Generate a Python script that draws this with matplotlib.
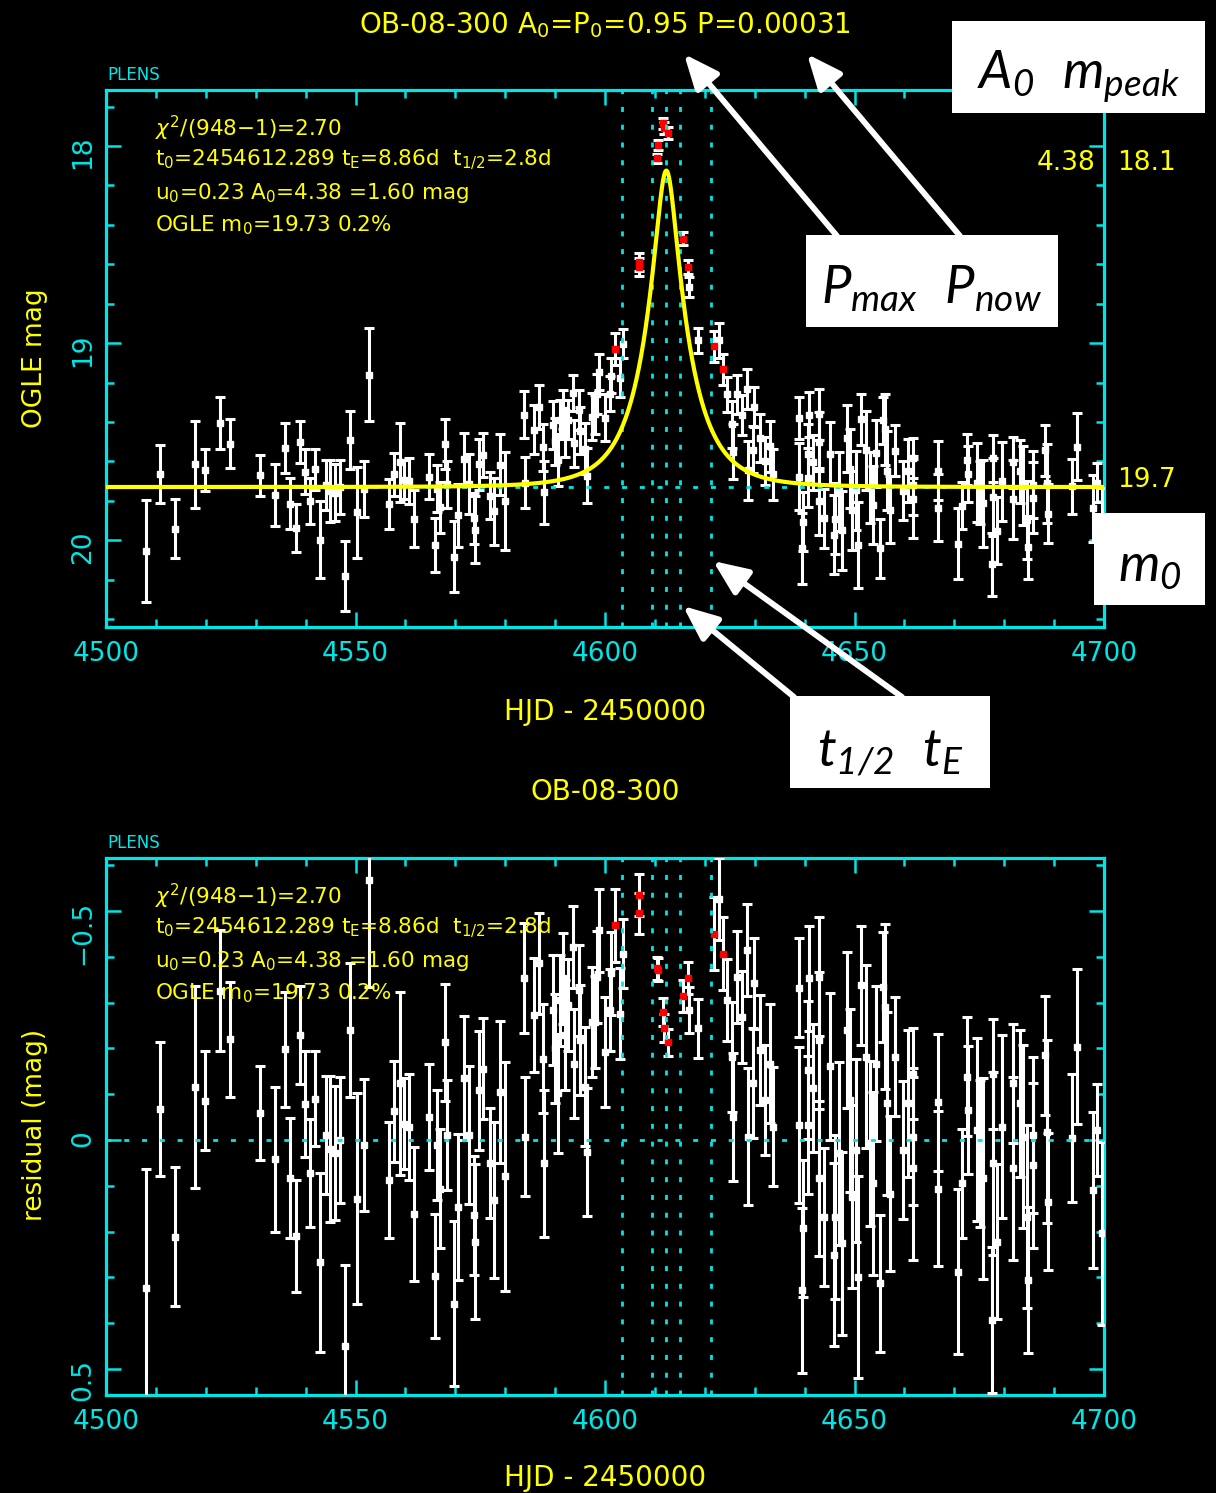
import numpy as np
import matplotlib
matplotlib.use('Agg')
import matplotlib.pyplot as plt
from matplotlib.patches import Rectangle, FancyArrowPatch
from matplotlib.ticker import MultipleLocator, FuncFormatter

plt.rcParams['font.family'] = ['DejaVu Sans']
plt.rcParams['mathtext.fontset'] = 'custom'
plt.rcParams['mathtext.it'] = 'Lato:italic'
plt.rcParams['mathtext.rm'] = 'Lato:italic'
plt.rcParams['mathtext.bf'] = 'Lato:bold:italic'

CYAN = '#00E5E5'
YEL = '#FFFF00'

# ---------------- data (OGLE photometry, residuals from the model) ----------------
hjd = [4507.95, 4510.8, 4513.9, 4517.9, 4519.8, 4522.9, 4524.9, 4530.8, 4533.9, 4535.9,
       4536.9, 4538.0, 4538.9, 4539.8, 4540.8, 4541.9, 4542.8, 4544.0, 4544.9, 4545.9,
       4546.8, 4547.9, 4548.9, 4550.4, 4551.7, 4552.8, 4556.8, 4557.8, 4558.9, 4559.7,
       4560.7, 4561.8, 4564.7, 4565.9, 4566.3, 4566.9, 4567.9, 4568.4, 4569.8, 4570.6,
       4571.7, 4572.7, 4573.8, 4573.9, 4574.8, 4575.6, 4576.9, 4577.8, 4578.9, 4579.9,
       4583.8, 4584.0, 4585.8, 4586.8, 4587.6, 4587.8, 4589.6, 4590.0, 4590.6, 4591.0,
       4591.6, 4592.0, 4592.6, 4593.6, 4593.7, 4594.7, 4595.0, 4596.0, 4596.3, 4597.3,
       4598.0, 4598.3, 4598.7, 4600.0, 4601.0, 4601.3, 4603.0, 4603.7,
       4616.9, 4618.7, 4622.9, 4624.4, 4625.4, 4625.7, 4626.4, 4627.4, 4628.4, 4628.7,
       4629.7, 4629.9, 4631.1, 4632.1, 4633.1, 4633.7,
       4638.9, 4638.9, 4639.5, 4639.7, 4640.7, 4640.7, 4640.9, 4641.7, 4642.9, 4642.9,
       4642.9, 4643.8, 4645.0, 4645.8, 4646.0, 4646.8, 4647.4, 4648.4, 4649.1, 4649.4,
       4650.4, 4650.8, 4651.4, 4652.4, 4653.1, 4653.8, 4654.4, 4655.1, 4655.8, 4656.1,
       4656.5, 4657.1, 4658.1, 4659.8, 4660.8, 4661.8, 4661.8, 4661.8, 4666.8, 4666.8,
       4670.8, 4671.5, 4672.6, 4672.8, 4674.5, 4675.2, 4675.8, 4677.5, 4677.7, 4677.8,
       4678.5, 4679.5, 4681.8, 4681.8, 4683.2, 4683.8, 4684.5, 4684.8, 4685.8, 4685.8,
       4688.2, 4688.5, 4688.8, 4693.5, 4694.5, 4697.7, 4698.5, 4699.5]
resid = [0.324, -0.067, 0.211, -0.116, -0.086, -0.326, -0.220, -0.059, 0.042, -0.198,
         0.084, 0.210, -0.229, -0.078, 0.072, -0.090, 0.267, -0.011, 0.020, 0.029,
         0.000, 0.451, -0.240, 0.128, 0.011, -0.569, 0.088, -0.063, -0.124, -0.036,
         -0.029, 0.162, -0.051, 0.297, 0.011, 0.106, -0.213, -0.011, 0.358, 0.146,
         -0.136, -0.011, 0.164, 0.222, -0.109, -0.156, 0.051, 0.131, -0.105, 0.079,
         -0.353, -0.007, -0.273, -0.386, -0.178, 0.051, -0.284, -0.200, -0.102, -0.305,
         -0.353, -0.229, -0.295, -0.422, -0.167, -0.327, -0.218, -0.116, 0.026, -0.258,
         -0.258, -0.356, -0.458, -0.193, -0.284, -0.364, -0.276, -0.407,
         -0.284, -0.244, -0.527, -0.306, -0.182, -0.051, -0.356, -0.269, -0.415, -0.007,
         -0.124, -0.342, -0.196, -0.087, -0.167, -0.029,
         -0.333, -0.033, 0.328, 0.193, -0.153, -0.033, -0.353, -0.113, -0.357, -0.218,
         0.084, 0.168, -0.161, 0.251, 0.168, 0.029, 0.226, -0.240, -0.087, 0.124,
         0.022, 0.299, -0.338, -0.182, 0.007, 0.095, -0.167, 0.313, -0.335, -0.291,
         -0.080, 0.117, -0.182, 0.022, -0.080, -0.145, -0.007, 0.062, -0.082, 0.106,
         0.288, 0.095, -0.138, -0.065, -0.022, 0.029, 0.084, 0.393, -0.145, 0.051,
         0.222, -0.029, -0.124, 0.062, -0.080, -0.007, 0.168, 0.306, -0.011, 0.055,
         -0.185, -0.018, 0.135, -0.004, -0.204, 0.109, -0.022, 0.204]
err = [0.260, 0.146, 0.151, 0.220, 0.108, 0.132, 0.125, 0.103, 0.158, 0.125,
       0.131, 0.122, 0.107, 0.116, 0.118, 0.104, 0.196, 0.128, 0.159, 0.146,
       0.137, 0.178, 0.147, 0.231, 0.144, 0.235, 0.127, 0.110, 0.200, 0.100,
       0.116, 0.146, 0.116, 0.135, 0.120, 0.130, 0.127, 0.120, 0.180, 0.160,
       0.135, 0.150, 0.130, 0.170, 0.130, 0.110, 0.120, 0.170, 0.155, 0.250,
       0.120, 0.130, 0.125, 0.110, 0.120, 0.160, 0.120, 0.120, 0.130, 0.100,
       0.100, 0.120, 0.100, 0.090, 0.120, 0.100, 0.120, 0.130, 0.140, 0.120,
       0.100, 0.100, 0.090, 0.120, 0.090, 0.090, 0.100, 0.075,
       0.050, 0.064, 0.090, 0.090, 0.120, 0.140, 0.100, 0.100, 0.100, 0.150,
       0.120, 0.100, 0.120, 0.120, 0.130, 0.130,
       0.108, 0.170, 0.180, 0.150, 0.150, 0.150, 0.115, 0.140, 0.130, 0.150,
       0.170, 0.150, 0.160, 0.200, 0.180, 0.200, 0.200, 0.170, 0.200, 0.200,
       0.200, 0.220, 0.130, 0.200, 0.180, 0.200, 0.170, 0.150, 0.120, 0.180,
       0.200, 0.170, 0.130, 0.150, 0.160, 0.100, 0.150, 0.200, 0.150, 0.170,
       0.180, 0.120, 0.130, 0.140, 0.200, 0.160, 0.220, 0.160, 0.120, 0.200,
       0.170, 0.200, 0.130, 0.200, 0.160, 0.200, 0.200, 0.160, 0.170, 0.180,
       0.130, 0.200, 0.150, 0.140, 0.170, 0.170, 0.100, 0.200]

# points near the peak plotted in red
peak_hjd = [4602.0, 4606.8, 4606.9, 4610.4, 4610.7, 4611.7, 4611.8, 4612.7,
            4615.7, 4616.7, 4621.9, 4623.6]
peak_resid = [-0.469, -0.535, -0.495, -0.375, -0.372, -0.280, -0.245, -0.213,
              -0.315, -0.353, -0.451, -0.407]
peak_err = [0.080, 0.045, 0.045, 0.025, 0.025, 0.030, 0.030, 0.030,
            0.035, 0.035, 0.080, 0.080]

# fit parameters (from the chart annotations)
T0 = 4612.289
TE = 8.86
THALF = 2.8
U0 = 0.2326
M0 = 19.73


def model(t):
    t = np.asarray(t, dtype=float)
    u = np.sqrt(U0 ** 2 + ((t - T0) / TE) ** 2)
    A = (u ** 2 + 2) / (u * np.sqrt(u ** 2 + 4))
    return M0 - 2.5 * np.log10(A)


W, H = 1216, 1493
fig = plt.figure(figsize=(W / 100, H / 100), dpi=100, facecolor='black')


def rect(l, t, r, b):
    return [l / W, 1 - b / H, (r - l) / W, (b - t) / H]


def fx(x):
    return x / W


def fy(y):
    return 1 - y / H


ax1 = fig.add_axes(rect(106, 90, 1104, 627))
ax2 = fig.add_axes(rect(106, 858, 1104, 1395))

EB = dict(fmt='s', ms=4.5, elinewidth=2.2, capsize=3.5, capthick=2.2)

for ax in (ax1, ax2):
    ax.set_facecolor('black')
    for s in ax.spines.values():
        s.set_color(CYAN)
        s.set_linewidth(2.3)
    ax.set_xlim(4500, 4700)
    ax.xaxis.set_major_locator(MultipleLocator(50))
    ax.xaxis.set_minor_locator(MultipleLocator(10))
    ax.tick_params(which='both', direction='in', top=True, right=True,
                   color=CYAN, width=1.8, labelcolor=CYAN, labelsize=19)
    ax.tick_params(which='major', length=10.5)
    ax.tick_params(which='minor', length=5.5)
    ax.tick_params(axis='x', pad=10)
    ax.tick_params(axis='y', pad=7, labelrotation=90)
    for tv in (T0 - TE, T0 - THALF, T0, T0 + THALF, T0 + TE):
        ax.axvline(tv, color=CYAN, lw=2.0, dashes=(1.8, 4.6), zorder=5)
    ax.text(0.001, 1.028, 'PLENS', transform=ax.transAxes, color=CYAN,
            fontsize=12, ha='left', va='center')
    info = [r'$\chi^2$/(948$-$1)=2.70',
            r't$_0$=2454612.289 t$_\mathrm{E}$=8.86d  t$_{1/2}$=2.8d',
            r'u$_0$=0.23 A$_0$=4.38 =1.60 mag',
            r'OGLE m$_0$=19.73 0.2%']
    for txt, yy in zip(info, (0.929, 0.870, 0.808, 0.749)):
        ax.text(0.049, yy, txt, transform=ax.transAxes, color=YEL, fontsize=15.5,
                ha='left', va='center', math_fontfamily='dejavusans', zorder=7)

# ---------------- top panel: light curve ----------------
t_w = np.array(hjd)
t_r = np.array(peak_hjd)
mag_w = model(t_w) + np.array(resid)
mag_r = model(t_r) + np.array(peak_resid)

ax1.set_ylim(20.44, 17.716)
ax1.yaxis.set_major_locator(MultipleLocator(1))
ax1.yaxis.set_minor_locator(MultipleLocator(0.2))
ax1.axhline(M0, color=CYAN, lw=2.0, dashes=(1.8, 4.6), zorder=4)
ax1.errorbar(t_w, mag_w, yerr=err, color='white', zorder=3, **EB)
ax1.errorbar(t_r, mag_r, yerr=peak_err, mfc='red', mec='red', ecolor='white',
             zorder=3.5, **EB)
tt = np.linspace(4500, 4700, 4001)
ax1.plot(tt, model(tt), color=YEL, lw=3, zorder=6)

ax1.set_xlabel('HJD - 2450000', color=YEL, fontsize=20)
ax1.xaxis.set_label_coords(0.5, -0.158)
ax1.xaxis.label.set_va('center')
ax1.set_ylabel('OGLE mag', color=YEL, fontsize=19)
ax1.yaxis.set_label_coords(-0.0711, 0.5)
ax1.yaxis.label.set_va('center')
ax1.text(0.5, 1.121, r'OB-08-300 A$_0$=P$_0$=0.95 P=0.00031', transform=ax1.transAxes,
         color=YEL, fontsize=20, ha='center', va='center', math_fontfamily='dejavusans')
ax1.text(0.991, 0.864, '4.38', transform=ax1.transAxes, color=YEL, fontsize=19,
         ha='right', va='center')
ax1.text(1.013, 0.864, '18.1', transform=ax1.transAxes, color=YEL, fontsize=19,
         ha='left', va='center')
ax1.text(1.013, 0.274, '19.7', transform=ax1.transAxes, color=YEL, fontsize=19,
         ha='left', va='center')

# ---------------- bottom panel: residuals ----------------
ax2.set_ylim(0.557, -0.616)
ax2.yaxis.set_major_locator(MultipleLocator(0.5))
ax2.yaxis.set_minor_locator(MultipleLocator(0.1))
ax2.yaxis.set_major_formatter(FuncFormatter(lambda v, p: f'{v:g}'.replace('-', '\u2212')))
ax2.axhline(0, color=CYAN, lw=2.0, dashes=(1.8, 4.6), zorder=4)
ax2.errorbar(t_w, resid, yerr=err, color='white', zorder=3, **EB)
ax2.errorbar(t_r, peak_resid, yerr=peak_err, mfc='red', mec='red', ecolor='white',
             zorder=3.5, **EB)
ax2.set_xlabel('HJD - 2450000', color=YEL, fontsize=20)
ax2.xaxis.set_label_coords(0.5, -0.1546)
ax2.xaxis.label.set_va('center')
ax2.set_ylabel('residual (mag)', color=YEL, fontsize=19)
ax2.yaxis.set_label_coords(-0.0711, 0.503)
ax2.yaxis.label.set_va('center')
ax2.text(0.5, 1.123, 'OB-08-300', transform=ax2.transAxes, color=YEL, fontsize=20,
         ha='center', va='center')

# ---------------- white annotation boxes and arrows ----------------
boxes = [((952, 21, 1205, 113), r'$A_0\ \ m_{peak}$', 76),
         ((806, 235, 1058, 327), r'$P_{max}\ \ P_{now}$', 289),
         ((790, 696, 990, 788), r'$t_{1/2}\ \ t_E$', 752),
         ((1094, 513, 1205, 605), r'$m_0$', 567)]
for (l, t, r, b), label, ty in boxes:
    fig.add_artist(Rectangle((fx(l), fy(b)), (r - l) / W, (b - t) / H,
                             transform=fig.transFigure, facecolor='white',
                             edgecolor='none', zorder=10))
    fig.text(fx((l + r) / 2), fy(ty), label, ha='center', va='center',
             fontsize=38, color='black', zorder=11)

arrows = [((837, 236), (684, 54)),
          ((960, 236), (807, 54)),
          ((794, 697), (683, 606)),
          ((902, 697), (713, 561))]
for (x1, y1), (x2, y2) in arrows:
    fig.add_artist(FancyArrowPatch((fx(x1), fy(y1)), (fx(x2), fy(y2)),
                                   transform=fig.transFigure,
                                   arrowstyle='-|>,head_length=1.05,head_width=0.45',
                                   mutation_scale=20, color='white', lw=4.2,
                                   shrinkA=0, shrinkB=0, zorder=12))

fig.savefig('out.png', dpi=100, facecolor='black')
